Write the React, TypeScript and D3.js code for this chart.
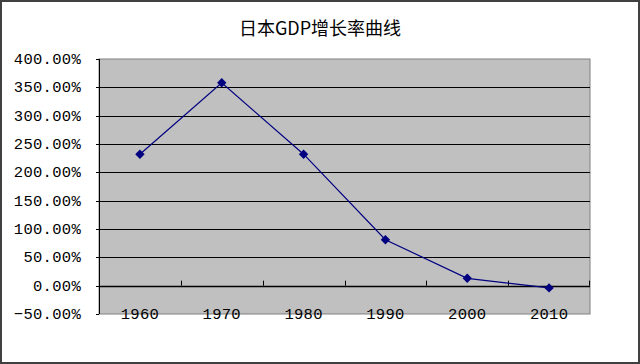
import React from "react";
import * as d3 from "d3";

const title = "日本GDP增长率曲线";
const years = ["1960", "1970", "1980", "1990", "2000", "2010"];
const growth = [2.32, 3.58, 2.32, 0.81, 0.13, -0.04];
const yTicks = [-0.5, 0, 0.5, 1, 1.5, 2, 2.5, 3, 3.5, 4];

export default function App() {
  const W = 640, H = 364;
  const left = 99, right = 590, top = 59, bottom = 314;
  const x = d3.scaleBand<string>().domain(years).range([left, right]).padding(0);
  const y = d3.scaleLinear().domain([-0.5, 4]).range([bottom, top]);
  const cx = (yr: string) => (x(yr) as number) + x.bandwidth() / 2;
  const line = d3.line<number>().x((_, i) => cx(years[i])).y((d) => y(d));
  const fmt = (v: number) => d3.format(".2f")(v * 100) + "%";
  const monoFont = "'Liberation Mono', 'DejaVu Sans Mono', monospace";
  const y0 = y(0);
  const diamond = d3.symbol(d3.symbolDiamond2, 56)() || "";
  return (
    <div style={{ position: "fixed", left: 0, top: 0, width: W, height: H }}>
      <svg width={W} height={H} style={{ display: "block", background: "#fff" }}>
        <rect x={1} y={1} width={W - 2} height={H - 2} fill="#fff" stroke="#404040" strokeWidth={2} />
        <text x={320} y={35} textAnchor="middle" fontFamily="'Noto Sans CJK SC', sans-serif" fontSize={18} fill="#000">
          {title}
        </text>
        <rect x={left} y={top} width={right - left} height={bottom - top} fill="#c0c0c0" stroke="#808080" strokeWidth={1} />
        {yTicks.map((t) => (
          <g key={t}>
            {t !== -0.5 && t !== 4 && (
              <line x1={left - 3} x2={right} y1={Math.round(y(t)) + 0.5} y2={Math.round(y(t)) + 0.5} stroke="#000" strokeWidth={1} />
            )}
            {(t === -0.5 || t === 4) && (
              <line x1={left - 3} x2={left} y1={Math.round(y(t)) + 0.5} y2={Math.round(y(t)) + 0.5} stroke="#000" strokeWidth={1} />
            )}
            <text x={81} y={y(t) + 5} textAnchor="end" fontFamily={monoFont} fontSize={15.5} letterSpacing={0.3} fill="#000">
              {fmt(t)}
            </text>
          </g>
        ))}
        <line x1={left + 0.5} x2={left + 0.5} y1={top} y2={bottom} stroke="#000" strokeWidth={1} />
        <line x1={left} x2={right} y1={Math.round(y0) + 0.5} y2={Math.round(y0) + 0.5} stroke="#000" strokeWidth={1.5} />
        {years.slice(1).map((yr) => (
          <line key={yr} x1={Math.round(x(yr) as number) + 0.5} x2={Math.round(x(yr) as number) + 0.5} y1={y0 - 5} y2={y0} stroke="#000" strokeWidth={1} />
        ))}
        <line x1={right - 0.5} x2={right - 0.5} y1={y0 - 5} y2={y0} stroke="#000" strokeWidth={1} />
        {years.map((yr) => (
          <text key={yr} x={cx(yr)} y={319} textAnchor="middle" fontFamily={monoFont} fontSize={15.5} letterSpacing={0.3} fill="#000">
            {yr}
          </text>
        ))}
        <path d={line(growth) || ""} fill="none" stroke="#000080" strokeWidth={1.2} />
        {growth.map((v, i) => (
          <path key={i} d={diamond} transform={`translate(${cx(years[i])},${y(v)})`} fill="#000080" />
        ))}
      </svg>
    </div>
  );
}
